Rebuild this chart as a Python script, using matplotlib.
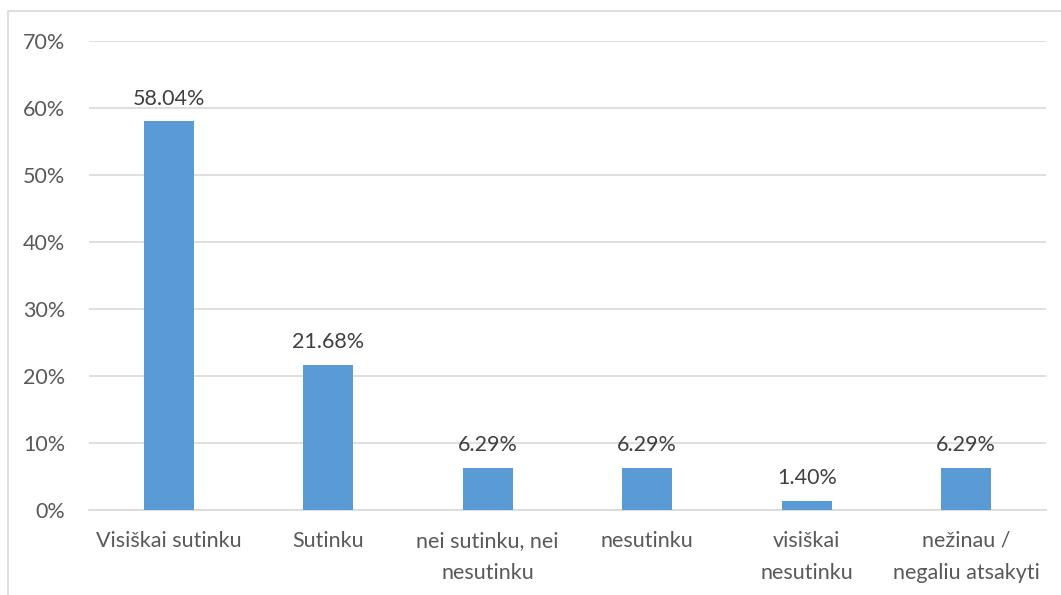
import numpy as np
import matplotlib.pyplot as plt
from matplotlib.patches import Rectangle

# atsakymu kategorijos ir procentai
categories = ['Visiškai sutinku', 'Sutinku', 'nei sutinku, nei\nnesutinku',
              'nesutinku', 'visiškai\nnesutinku', 'nežinau /\nnegaliu atsakyti']
values = [58.04, 21.68, 6.29, 6.29, 1.40, 6.29]
yticks = [0, 10, 20, 30, 40, 50, 60, 70]

plt.rcParams['font.family'] = ['Lato', 'DejaVu Sans']
txt = '#595959'
fs = 15.5

fig = plt.figure(figsize=(10.61, 5.95), dpi=100)
ax = fig.add_axes([89 / 1061, 85 / 595, 957 / 1061, 469 / 595])

# remelis aplink diagrama
fig.patches.append(Rectangle((8 / 1061, -0.1), 1.2, (584 / 595) + 0.1,
                             transform=fig.transFigure, fill=False,
                             edgecolor='#d9d9d9', linewidth=1.2))

xs = np.arange(len(categories))
ax.bar(xs, values, width=0.315, color='#5b9bd5', zorder=3)

for x, v in zip(xs, values):
    ax.annotate('%.2f%%' % v, (x, v), xytext=(0, 9), textcoords='offset points',
                ha='center', va='bottom', fontsize=fs, color='#404040')

ax.set_xlim(-0.5, len(categories) - 0.5)
ax.set_ylim(0, 70)
ax.set_yticks(yticks)
ax.set_yticklabels(['%d%%' % t for t in yticks])
ax.set_xticks(xs)
ax.set_xticklabels(categories, linespacing=1.75)

ax.grid(axis='y', color='#d9d9d9', linewidth=1.2, zorder=0)
for s in ['top', 'right', 'left']:
    ax.spines[s].set_visible(False)
ax.spines['bottom'].set_color('#d9d9d9')
ax.spines['bottom'].set_linewidth(1.2)
ax.tick_params(axis='both', length=0, labelsize=fs, labelcolor=txt)
ax.tick_params(axis='x', pad=15)
ax.tick_params(axis='y', pad=17)

fig.savefig('out.png', dpi=100)
